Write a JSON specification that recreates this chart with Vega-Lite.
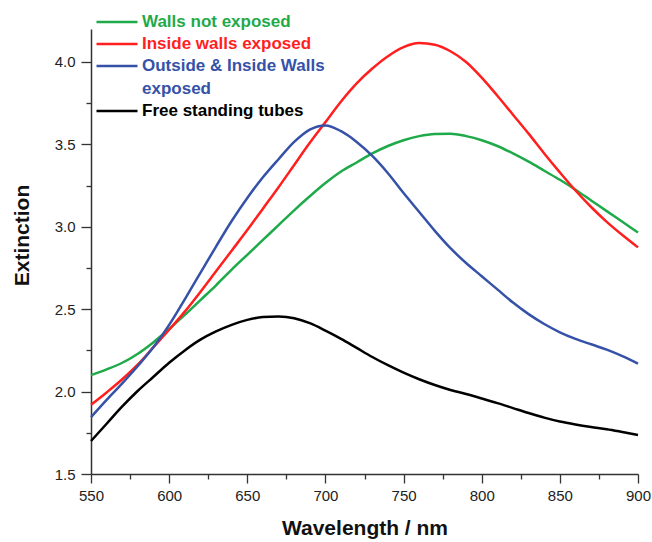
{
  "$schema": "https://vega.github.io/schema/vega-lite/v6.json",
  "width": 547,
  "height": 445,
  "autosize": "none",
  "padding": {"left": 91, "top": 29, "right": 14, "bottom": 68},
  "config": {"view": {"stroke": null}, "font": "Liberation Sans"},
  "data": {"values": [
    {"s":"Walls not exposed","x":550,"y":2.10},{"s":"Walls not exposed","x":560,"y":2.135},{"s":"Walls not exposed","x":570,"y":2.175},{"s":"Walls not exposed","x":580,"y":2.23},{"s":"Walls not exposed","x":590,"y":2.30},{"s":"Walls not exposed","x":600,"y":2.38},{"s":"Walls not exposed","x":610,"y":2.465},{"s":"Walls not exposed","x":620,"y":2.555},{"s":"Walls not exposed","x":630,"y":2.645},{"s":"Walls not exposed","x":640,"y":2.74},{"s":"Walls not exposed","x":650,"y":2.83},{"s":"Walls not exposed","x":660,"y":2.92},{"s":"Walls not exposed","x":670,"y":3.01},{"s":"Walls not exposed","x":680,"y":3.10},{"s":"Walls not exposed","x":690,"y":3.185},{"s":"Walls not exposed","x":700,"y":3.265},{"s":"Walls not exposed","x":710,"y":3.335},{"s":"Walls not exposed","x":720,"y":3.39},{"s":"Walls not exposed","x":730,"y":3.445},{"s":"Walls not exposed","x":740,"y":3.49},{"s":"Walls not exposed","x":750,"y":3.525},{"s":"Walls not exposed","x":760,"y":3.55},{"s":"Walls not exposed","x":770,"y":3.563},{"s":"Walls not exposed","x":780,"y":3.565},{"s":"Walls not exposed","x":790,"y":3.55},{"s":"Walls not exposed","x":800,"y":3.525},{"s":"Walls not exposed","x":810,"y":3.49},{"s":"Walls not exposed","x":820,"y":3.445},{"s":"Walls not exposed","x":830,"y":3.395},{"s":"Walls not exposed","x":840,"y":3.34},{"s":"Walls not exposed","x":850,"y":3.285},{"s":"Walls not exposed","x":860,"y":3.225},{"s":"Walls not exposed","x":870,"y":3.16},{"s":"Walls not exposed","x":880,"y":3.095},{"s":"Walls not exposed","x":890,"y":3.03},{"s":"Walls not exposed","x":900,"y":2.965},
    {"s":"Inside walls exposed","x":550,"y":1.92},{"s":"Inside walls exposed","x":560,"y":1.995},{"s":"Inside walls exposed","x":570,"y":2.075},{"s":"Inside walls exposed","x":580,"y":2.165},{"s":"Inside walls exposed","x":590,"y":2.27},{"s":"Inside walls exposed","x":600,"y":2.375},{"s":"Inside walls exposed","x":610,"y":2.485},{"s":"Inside walls exposed","x":620,"y":2.605},{"s":"Inside walls exposed","x":630,"y":2.73},{"s":"Inside walls exposed","x":640,"y":2.855},{"s":"Inside walls exposed","x":650,"y":2.98},{"s":"Inside walls exposed","x":660,"y":3.11},{"s":"Inside walls exposed","x":670,"y":3.24},{"s":"Inside walls exposed","x":680,"y":3.375},{"s":"Inside walls exposed","x":690,"y":3.51},{"s":"Inside walls exposed","x":700,"y":3.635},{"s":"Inside walls exposed","x":710,"y":3.76},{"s":"Inside walls exposed","x":720,"y":3.87},{"s":"Inside walls exposed","x":730,"y":3.96},{"s":"Inside walls exposed","x":740,"y":4.035},{"s":"Inside walls exposed","x":750,"y":4.09},{"s":"Inside walls exposed","x":760,"y":4.115},{"s":"Inside walls exposed","x":770,"y":4.105},{"s":"Inside walls exposed","x":780,"y":4.065},{"s":"Inside walls exposed","x":790,"y":4.0},{"s":"Inside walls exposed","x":800,"y":3.905},{"s":"Inside walls exposed","x":810,"y":3.795},{"s":"Inside walls exposed","x":820,"y":3.68},{"s":"Inside walls exposed","x":830,"y":3.565},{"s":"Inside walls exposed","x":840,"y":3.445},{"s":"Inside walls exposed","x":850,"y":3.33},{"s":"Inside walls exposed","x":860,"y":3.22},{"s":"Inside walls exposed","x":870,"y":3.12},{"s":"Inside walls exposed","x":880,"y":3.03},{"s":"Inside walls exposed","x":890,"y":2.95},{"s":"Inside walls exposed","x":900,"y":2.875},
    {"s":"Outside & Inside Walls exposed","x":550,"y":1.845},{"s":"Outside & Inside Walls exposed","x":560,"y":1.95},{"s":"Outside & Inside Walls exposed","x":570,"y":2.05},{"s":"Outside & Inside Walls exposed","x":580,"y":2.155},{"s":"Outside & Inside Walls exposed","x":590,"y":2.27},{"s":"Outside & Inside Walls exposed","x":600,"y":2.405},{"s":"Outside & Inside Walls exposed","x":610,"y":2.56},{"s":"Outside & Inside Walls exposed","x":620,"y":2.72},{"s":"Outside & Inside Walls exposed","x":630,"y":2.88},{"s":"Outside & Inside Walls exposed","x":640,"y":3.035},{"s":"Outside & Inside Walls exposed","x":650,"y":3.175},{"s":"Outside & Inside Walls exposed","x":660,"y":3.30},{"s":"Outside & Inside Walls exposed","x":670,"y":3.41},{"s":"Outside & Inside Walls exposed","x":680,"y":3.515},{"s":"Outside & Inside Walls exposed","x":690,"y":3.59},{"s":"Outside & Inside Walls exposed","x":700,"y":3.615},{"s":"Outside & Inside Walls exposed","x":710,"y":3.58},{"s":"Outside & Inside Walls exposed","x":720,"y":3.515},{"s":"Outside & Inside Walls exposed","x":730,"y":3.43},{"s":"Outside & Inside Walls exposed","x":740,"y":3.325},{"s":"Outside & Inside Walls exposed","x":750,"y":3.205},{"s":"Outside & Inside Walls exposed","x":760,"y":3.09},{"s":"Outside & Inside Walls exposed","x":770,"y":2.975},{"s":"Outside & Inside Walls exposed","x":780,"y":2.87},{"s":"Outside & Inside Walls exposed","x":790,"y":2.78},{"s":"Outside & Inside Walls exposed","x":800,"y":2.70},{"s":"Outside & Inside Walls exposed","x":810,"y":2.62},{"s":"Outside & Inside Walls exposed","x":820,"y":2.54},{"s":"Outside & Inside Walls exposed","x":830,"y":2.47},{"s":"Outside & Inside Walls exposed","x":840,"y":2.41},{"s":"Outside & Inside Walls exposed","x":850,"y":2.36},{"s":"Outside & Inside Walls exposed","x":860,"y":2.32},{"s":"Outside & Inside Walls exposed","x":870,"y":2.287},{"s":"Outside & Inside Walls exposed","x":880,"y":2.255},{"s":"Outside & Inside Walls exposed","x":890,"y":2.215},{"s":"Outside & Inside Walls exposed","x":900,"y":2.17},
    {"s":"Free standing tubes","x":550,"y":1.70},{"s":"Free standing tubes","x":560,"y":1.805},{"s":"Free standing tubes","x":570,"y":1.91},{"s":"Free standing tubes","x":580,"y":2.005},{"s":"Free standing tubes","x":590,"y":2.09},{"s":"Free standing tubes","x":600,"y":2.175},{"s":"Free standing tubes","x":610,"y":2.25},{"s":"Free standing tubes","x":620,"y":2.315},{"s":"Free standing tubes","x":630,"y":2.365},{"s":"Free standing tubes","x":640,"y":2.405},{"s":"Free standing tubes","x":650,"y":2.435},{"s":"Free standing tubes","x":660,"y":2.452},{"s":"Free standing tubes","x":670,"y":2.455},{"s":"Free standing tubes","x":680,"y":2.445},{"s":"Free standing tubes","x":690,"y":2.415},{"s":"Free standing tubes","x":700,"y":2.37},{"s":"Free standing tubes","x":710,"y":2.32},{"s":"Free standing tubes","x":720,"y":2.265},{"s":"Free standing tubes","x":730,"y":2.21},{"s":"Free standing tubes","x":740,"y":2.16},{"s":"Free standing tubes","x":750,"y":2.115},{"s":"Free standing tubes","x":760,"y":2.075},{"s":"Free standing tubes","x":770,"y":2.04},{"s":"Free standing tubes","x":780,"y":2.01},{"s":"Free standing tubes","x":790,"y":1.985},{"s":"Free standing tubes","x":800,"y":1.958},{"s":"Free standing tubes","x":810,"y":1.93},{"s":"Free standing tubes","x":820,"y":1.90},{"s":"Free standing tubes","x":830,"y":1.87},{"s":"Free standing tubes","x":840,"y":1.842},{"s":"Free standing tubes","x":850,"y":1.818},{"s":"Free standing tubes","x":860,"y":1.80},{"s":"Free standing tubes","x":870,"y":1.785},{"s":"Free standing tubes","x":880,"y":1.772},{"s":"Free standing tubes","x":890,"y":1.755},{"s":"Free standing tubes","x":900,"y":1.737}
  ]},
  "mark": {"type": "line", "strokeWidth": 2.5, "interpolate": "monotone"},
  "encoding": {
    "x": {
      "field": "x", "type": "quantitative",
      "scale": {"domain": [550, 900], "nice": false, "zero": false},
      "axis": {
        "title": "Wavelength / nm",
        "titleFont": "Liberation Sans", "titleFontSize": 21, "titleFontWeight": "bold", "titleColor": "#111", "titlePadding": 14,
        "values": [550,575,600,625,650,675,700,725,750,775,800,825,850,875,900],
        "labelExpr": "datum.value % 50 === 0 ? datum.label : ''",
        "labelFontSize": 15, "labelColor": "#222", "labelPadding": 5,
        "tickSize": {"condition": {"test": "datum.value % 50 === 0", "value": 9}, "value": 5},
        "tickColor": "#333", "tickWidth": 1.3, "domainColor": "#333", "domainWidth": 1.5,
        "grid": false, "labelFlush": false, "labelOverlap": false
      }
    },
    "y": {
      "field": "y", "type": "quantitative",
      "scale": {"domain": [1.5, 4.2], "nice": false, "zero": false},
      "axis": {
        "title": "Extinction",
        "titleFont": "Liberation Sans", "titleFontSize": 21, "titleFontWeight": "bold", "titleColor": "#111", "titlePadding": 22,
        "titleY": 206,
        "values": [1.5,1.75,2.0,2.25,2.5,2.75,3.0,3.25,3.5,3.75,4.0],
        "format": ".1f",
        "labelExpr": "datum.value % 0.5 === 0 ? datum.label : ''",
        "labelFontSize": 15, "labelColor": "#222", "labelPadding": 6,
        "tickSize": {"condition": {"test": "datum.value % 0.5 === 0", "value": 10}, "value": 5},
        "tickColor": "#333", "tickWidth": 1.3, "domainColor": "#333", "domainWidth": 1.5,
        "grid": false, "labelFlush": false, "labelOverlap": false
      }
    },
    "color": {
      "field": "s", "type": "nominal",
      "scale": {
        "domain": ["Walls not exposed", "Inside walls exposed", "Outside & Inside Walls exposed", "Free standing tubes"],
        "range": ["#1faa4a", "#ff1f1f", "#3552a8", "#000000"]
      },
      "legend": {
        "orient": "none", "legendX": 4, "legendY": -15, "title": null,
        "symbolType": "M-1,0H1", "symbolSize": 1681, "symbolStrokeWidth": 2.5,
        "labelFont": "Liberation Sans", "labelFontSize": 17, "labelFontWeight": "bold",
        "labelOffset": 3, "labelLimit": 400, "rowPadding": 5, "clipHeight": 16,
        "labelExpr": "datum.label == 'Outside & Inside Walls exposed' ? ['Outside & Inside Walls', 'exposed'] : datum.label",
        "encode": {
          "labels": {"update": {"fill": {"scale": "color", "field": "value"}, "lineHeight": {"value": 23}}}
        }
      }
    }
  }
}
